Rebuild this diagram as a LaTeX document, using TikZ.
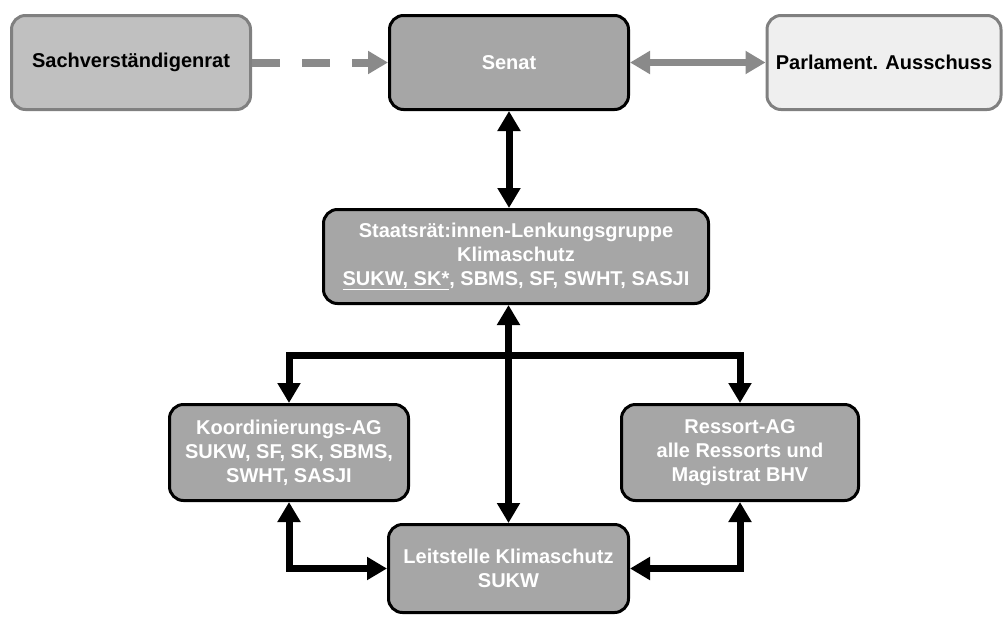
\documentclass[tikz,border=0pt]{standalone}
\usepackage{fontspec}
\setmainfont{Liberation Sans}
\usetikzlibrary{arrows.meta}
\definecolor{boxdark}{HTML}{A6A6A6}
\definecolor{boxmid}{HTML}{C0C0C0}
\definecolor{boxlight}{HTML}{EFEFEF}
\definecolor{edgegray}{HTML}{808080}
\definecolor{arrowgray}{HTML}{8A8A8A}
\tikzset{
  base/.style={rounded corners=14pt, line width=3pt, align=center,
    font=\fontsize{20}{24}\selectfont\bfseries, inner sep=0pt},
  darkbox/.style={base, draw=black, fill=boxdark, text=white},
  midbox/.style={base, draw=edgegray, fill=boxmid, text=black},
  lightbox/.style={base, draw=edgegray, fill=boxlight, text=black},
  blk/.style={draw=black, line width=7pt},
  gry/.style={draw=arrowgray, line width=7pt},
  tipb/.tip={Triangle[length=20pt,width=22pt]},
}
\begin{document}
\begin{tikzpicture}[x=1pt,y=-1pt]
\useasboundingbox (0,0) rectangle (1003,616);
\node[midbox, minimum width=239pt, minimum height=94pt] (sach) at (131,62.5) {Sachverständigenrat};
\node[darkbox, minimum width=239pt, minimum height=94pt] (senat) at (509,62.5) {Senat};
\node[lightbox, minimum width=234pt, minimum height=94pt] (parl) at (884,62.5) {Parlament. Ausschuss};
\node[darkbox, minimum width=385pt, minimum height=94pt] (staats) at (516,256.5)
  {Staatsrät:innen-Lenkungsgruppe\\Klimaschutz\\\underline{SUKW, SK*}, SBMS, SF, SWHT, SASJI};
\node[darkbox, minimum width=239pt, minimum height=96pt] (koord) at (289,452.5)
  {Koordinierungs-AG\\SUKW, SF, SK, SBMS,\\SWHT, SASJI};
\node[darkbox, minimum width=237pt, minimum height=96pt] (ress) at (740,452.5)
  {Ressort-AG\\alle Ressorts und\\Magistrat BHV};
\node[darkbox, minimum width=240pt, minimum height=88pt] (leit) at (508.5,568.5)
  {Leitstelle Klimaschutz\\SUKW};
\coordinate (hb) at (510,355);
% gray connectors
\draw[gry, line width=8pt, dash pattern=on 28pt off 22pt, -tipb] (sach.east) -- (senat.west);
\draw[gry, tipb-tipb] (senat.east) -- (parl.west);
% black connectors
\draw[blk, tipb-tipb] (senat.south) -- (senat.south |- staats.north);
\draw[blk, tipb-tipb] (leit.north |- staats.south) -- (leit.north);
\draw[blk, -tipb] (hb) -| (koord.north);
\draw[blk, -tipb] (hb) -| (ress.north);
\draw[blk, tipb-tipb] (koord.south) |- (leit.west);
\draw[blk, tipb-tipb] (ress.south) |- (leit.east);
\end{tikzpicture}
\end{document}
